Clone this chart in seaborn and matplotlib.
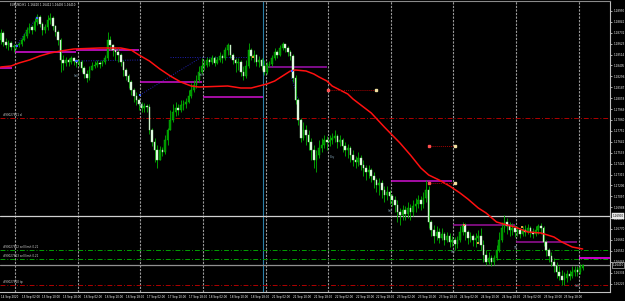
import numpy as np
import pandas as pd
import matplotlib
matplotlib.use("Agg")
import matplotlib.pyplot as plt
import seaborn as sns

sns.set_style("dark", {"axes.facecolor": "black", "figure.facecolor": "black"})
plt.rcParams['font.family'] = ['DejaVu Sans']

title_text = "EURUSD,H1  1.16410 1.16412 1.16405 1.16410"

first_open = 1.1866
close = [1.1873,1.1864,1.1861,1.1863,1.1859,1.1860,1.1861,1.1862,1.1866,1.1870,1.1876,1.1879,
         1.1876,1.1884,1.1889,1.1882,1.1876,1.1879,1.1886,1.1888,1.1880,1.1874,1.1866,1.1846,
         1.1843,1.1846,1.1844,1.1848,1.1845,1.1843,1.1844,1.1838,1.1832,1.1828,1.1836,1.1840,
         1.1841,1.1843,1.1842,1.1844,1.1848,1.1866,1.1861,1.1856,1.1854,1.1851,1.1844,1.1836,
         1.1830,1.1824,1.1816,1.1810,1.1806,1.1802,1.1798,1.1800,1.1799,1.1776,1.1764,1.1756,
         1.1746,1.1756,1.1754,1.1766,1.1776,1.1786,1.1794,1.1798,1.1796,1.1801,1.1802,1.1804,
         1.1810,1.1816,1.1821,1.1826,1.1834,1.1840,1.1841,1.1846,1.1844,1.1848,1.1843,1.1846,
         1.1850,1.1848,1.1856,1.1861,1.1851,1.1846,1.1843,1.1844,1.1834,1.1830,1.1840,1.1856,
         1.1850,1.1851,1.1844,1.1846,1.1840,1.1834,1.1841,1.1842,1.1848,1.1854,1.1851,1.1858,
         1.1862,1.1858,1.1854,1.1850,1.1828,1.1806,1.1786,1.1768,1.1776,1.1771,1.1764,1.1756,
         1.1746,1.1751,1.1758,1.1761,1.1766,1.1764,1.1766,1.1768,1.1770,1.1764,1.1766,1.1760,
         1.1756,1.1758,1.1751,1.1746,1.1744,1.1748,1.1741,1.1738,1.1734,1.1736,1.1730,1.1726,
         1.1721,1.1723,1.1716,1.1711,1.1714,1.1710,1.1706,1.1701,1.1694,1.1691,1.1696,1.1692,
         1.1698,1.1694,1.1700,1.1702,1.1706,1.1702,1.1708,1.1716,1.1684,1.1676,1.1670,1.1674,
         1.1668,1.1672,1.1666,1.1670,1.1664,1.1666,1.1662,1.1666,1.1674,1.1681,1.1674,1.1668,
         1.1670,1.1666,1.1668,1.1670,1.1661,1.1651,1.1644,1.1648,1.1644,1.1648,1.1656,1.1666,
         1.1678,1.1684,1.1680,1.1676,1.1678,1.1674,1.1676,1.1672,1.1676,1.1674,1.1678,1.1674,
         1.1672,1.1676,1.1680,1.1678,1.1664,1.1656,1.1650,1.1644,1.1640,1.1634,1.1630,1.1626,
         1.1628,1.1632,1.1630,1.1634,1.1636,1.1634,1.1638,1.1641]
high = [1.1877,1.1875,1.1868,1.1866,1.1865,1.1862,1.1862,1.1864,1.1868,1.1873,1.1879,1.1883,
        1.1881,1.1888,1.1892,1.1891,1.1884,1.1882,1.1891,1.1893,1.1890,1.1881,1.1876,1.1868,
        1.1851,1.1849,1.1848,1.1850,1.1849,1.1847,1.1847,1.1846,1.1840,1.1836,1.1840,1.1844,
        1.1845,1.1846,1.1845,1.1846,1.1851,1.1874,1.1870,1.1862,1.1859,1.1858,1.1853,1.1846,
        1.1838,1.1832,1.1826,1.1818,1.1814,1.1808,1.1804,1.1803,1.1802,1.1802,1.1778,1.1768,
        1.1761,1.1760,1.1759,1.1771,1.1778,1.1796,1.1802,1.1804,1.1802,1.1806,1.1806,1.1808,
        1.1816,1.1823,1.1826,1.1831,1.1840,1.1848,1.1846,1.1849,1.1848,1.1851,1.1850,1.1849,
        1.1854,1.1852,1.1859,1.1863,1.1861,1.1853,1.1848,1.1848,1.1846,1.1840,1.1846,1.1863,
        1.1858,1.1856,1.1852,1.1850,1.1848,1.1846,1.1844,1.1845,1.1851,1.1858,1.1856,1.1861,
        1.1864,1.1862,1.1860,1.1856,1.1852,1.1831,1.1808,1.1788,1.1784,1.1781,1.1776,1.1768,
        1.1761,1.1756,1.1766,1.1768,1.1771,1.1770,1.1771,1.1773,1.1776,1.1772,1.1771,1.1768,
        1.1764,1.1762,1.1760,1.1756,1.1750,1.1754,1.1751,1.1746,1.1741,1.1741,1.1738,1.1734,
        1.1728,1.1728,1.1726,1.1720,1.1720,1.1716,1.1712,1.1710,1.1706,1.1698,1.1701,1.1700,
        1.1704,1.1702,1.1706,1.1708,1.1711,1.1710,1.1714,1.1726,1.1720,1.1686,1.1681,1.1680,
        1.1678,1.1678,1.1674,1.1674,1.1673,1.1670,1.1669,1.1670,1.1680,1.1684,1.1683,1.1676,
        1.1674,1.1672,1.1673,1.1676,1.1678,1.1666,1.1656,1.1654,1.1651,1.1651,1.1661,1.1674,
        1.1684,1.1691,1.1688,1.1684,1.1683,1.1681,1.1680,1.1678,1.1680,1.1681,1.1682,1.1680,
        1.1678,1.1680,1.1682,1.1683,1.1680,1.1666,1.1658,1.1654,1.1648,1.1644,1.1640,1.1636,
        1.1634,1.1636,1.1636,1.1640,1.1640,1.1640,1.1642,1.1642]
low = [1.1862,1.1860,1.1858,1.1856,1.1856,1.1854,1.1857,1.1859,1.1860,1.1865,1.1868,1.1873,
       1.1872,1.1875,1.1881,1.1879,1.1871,1.1873,1.1876,1.1882,1.1876,1.1870,1.1861,1.1834,
       1.1836,1.1840,1.1840,1.1842,1.1841,1.1839,1.1840,1.1834,1.1828,1.1824,1.1826,1.1836,
       1.1838,1.1839,1.1838,1.1840,1.1842,1.1846,1.1856,1.1850,1.1846,1.1844,1.1840,1.1830,
       1.1826,1.1818,1.1811,1.1804,1.1801,1.1796,1.1794,1.1794,1.1794,1.1772,1.1760,1.1744,
       1.1738,1.1748,1.1750,1.1752,1.1761,1.1778,1.1784,1.1790,1.1791,1.1794,1.1796,1.1798,
       1.1803,1.1808,1.1814,1.1818,1.1824,1.1832,1.1836,1.1839,1.1840,1.1842,1.1840,1.1842,
       1.1844,1.1843,1.1846,1.1851,1.1848,1.1842,1.1834,1.1836,1.1830,1.1826,1.1828,1.1838,
       1.1846,1.1844,1.1840,1.1839,1.1836,1.1831,1.1832,1.1839,1.1840,1.1846,1.1848,1.1850,
       1.1856,1.1854,1.1850,1.1846,1.1824,1.1802,1.1781,1.1764,1.1766,1.1761,1.1756,1.1746,
       1.1738,1.1734,1.1748,1.1754,1.1758,1.1756,1.1760,1.1762,1.1764,1.1758,1.1760,1.1754,
       1.1750,1.1748,1.1744,1.1740,1.1738,1.1740,1.1736,1.1730,1.1726,1.1728,1.1724,1.1718,
       1.1714,1.1711,1.1708,1.1704,1.1706,1.1702,1.1700,1.1694,1.1684,1.1681,1.1686,1.1686,
       1.1688,1.1686,1.1690,1.1694,1.1698,1.1696,1.1698,1.1704,1.1678,1.1670,1.1663,1.1666,
       1.1663,1.1666,1.1661,1.1664,1.1659,1.1660,1.1656,1.1658,1.1664,1.1671,1.1666,1.1662,
       1.1664,1.1660,1.1659,1.1664,1.1656,1.1644,1.1641,1.1642,1.1640,1.1641,1.1646,1.1654,
       1.1664,1.1674,1.1672,1.1670,1.1671,1.1669,1.1670,1.1668,1.1670,1.1670,1.1672,1.1669,
       1.1668,1.1670,1.1672,1.1672,1.1660,1.1650,1.1644,1.1640,1.1634,1.1628,1.1626,1.1621,
       1.1621,1.1624,1.1626,1.1628,1.1630,1.1630,1.1632,1.1636]

# moving average (red) vertices: bar index, price
ma_bar = [0,4,7,11,15,19,23,28,38,46,50,53,57,61,65,69,73,76,87,92,96,99,102,105,108,111,113,
          117,120,122,125,127,130,133,135,142,147,153,157,161,164,168,172,176,179,183,186,190,
          194,197,202,207,212,215,219,223]
ma_price = [1.1839,1.1840,1.1843,1.1846,1.1850,1.1853,1.1855,1.1857,1.1858,1.1858,1.1856,1.1851,
            1.1845,1.1837,1.1830,1.1824,1.1820,1.1819,1.1820,1.1818,1.1818,1.1820,1.1822,1.1825,
            1.1830,1.1835,1.1836,1.1835,1.1832,1.1829,1.1825,1.1820,1.1816,1.1812,1.1807,1.1793,
            1.1779,1.1763,1.1751,1.1738,1.1731,1.1726,1.1720,1.1713,1.1707,1.1698,1.1693,1.1684,
            1.1681,1.1679,1.1674,1.1673,1.1669,1.1664,1.1659,1.1657]

# daily level segments
lvl_start = [-0.25, 5.5, 29.0, 53.5, 77.5, 101.5, 149.5, 173.5, 197.5, 221.5]
lvl_end = [4.4, 29.0, 53.0, 77.0, 100.5, 125.0, 173.0, 197.0, 221.0, 233.5]
lvl_price = [1.1838, 1.1854, 1.1856, 1.1824, 1.1809, 1.1839, 1.1725, 1.1681, 1.1664, 1.1648]
lvl_color = ['#e010e0', '#e010e0', '#e010e0', '#d010d0', '#d010d0', '#a010b0',
             '#d010d0', '#9a109a', '#9a109a', '#ff00ff']

# full-width order lines
order_price = [1.1788, 1.1656, 1.1647, 1.1621]
order_color = ['#b00000', '#00a000', '#00a000', '#b00000']
order_label = ['#90027811 sl', '#90027812 sell limit 0.21', '#90027813 sell limit 0.21', '#90027810 tp']
hline_price = [1.1690, 1.1641]
hline_color = ['#d0d0d0', '#909090']

# trade connection lines
trade_x0 = [125.5, 164.0, 164.0]
trade_x1 = [144.0, 174.0, 174.0]
trade_p = [1.1816, 1.1760, 1.1723]

# blue dotted zigzag segments
zz_x0 = [5.5, 29.0, 53.4, 65.0, 111.5]
zz_x1 = [14.0, 53.4, 76.4, 94.4, 114.0]
zz_p0 = [1.1859, 1.1845, 1.1811, 1.1849, 1.1828]
zz_p1 = [1.1889, 1.1846, 1.1848, 1.1849, 1.1806]

# small arrow marks and their notes
mark_bar = [6.3, 14.0, 29.0, 53.4, 111.6, 96.7, 177.5, 183.0, 199.7]
mark_price = [1.1860, 1.1888, 1.1845, 1.1811, 1.1835, 1.1849, 1.1681, 1.1663, 1.1679]
mark_color = ['#4060ff', '#4060ff', '#4060ff', '#4060ff', '#4060ff', '#e0a040', '#ff6060', '#e0a040', '#e0a040']
note_bar = [28.0, 76.0, 53.0, 126.0, 148.5, 172.5, 196.5, 220.0]
note_price = [1.1830, 1.1831, 1.1801, 1.1749, 1.1695, 1.1654, 1.1658, 1.1620]
note_text = ['Sell', 'Sell', 'Buy', 'Buy', 'Sell', 'Sell', 'TP', 'Sell']

separators = [5.5 + 24 * k for k in range(10)]
blue_vline = 100.5

date_labels = ["14 Sep 2020", "15 Sep 02:00", "15 Sep 10:00", "15 Sep 18:00", "16 Sep 02:00",
               "16 Sep 10:00", "16 Sep 18:00", "17 Sep 02:00", "17 Sep 10:00", "17 Sep 18:00",
               "18 Sep 02:00", "18 Sep 10:00", "18 Sep 18:00", "21 Sep 02:00", "21 Sep 10:00",
               "21 Sep 18:00", "22 Sep 02:00", "22 Sep 10:00", "22 Sep 18:00", "23 Sep 02:00",
               "23 Sep 10:00", "23 Sep 18:00", "24 Sep 02:00", "24 Sep 10:00", "24 Sep 18:00",
               "25 Sep 02:00", "25 Sep 10:00", "25 Sep 18:00"]

n = min(len(close), len(high), len(low))
df = pd.DataFrame({"bar": np.arange(n), "close": close[:n], "high": high[:n], "low": low[:n]})
df["open"] = [first_open] + list(df["close"].iloc[:-1])
df["high"] = df[["high", "open", "close"]].max(axis=1)
df["low"] = df[["low", "open", "close"]].min(axis=1)

YMIN, YMAX = 1.1614, 1.1905
fig = plt.figure(figsize=(6.25, 3.01), dpi=100, facecolor='black')
ax = fig.add_axes([0, 9 / 301, 610 / 625, 291 / 301], facecolor='black')
ax.set_xlim(-0.25, 233.47)
ax.set_ylim(YMIN, YMAX)

# separators
for s in separators:
    ax.axvline(s, color='#9a9a9a', lw=0.8, ls=(0, (2, 1.2)), zorder=1)
ax.axvline(blue_vline, color='#2a7fa8', lw=0.8, zorder=1)

# order lines
for p, c in zip(order_price, order_color):
    ax.axhline(p, color=c, lw=0.7, ls=(0, (5, 2, 1, 2)), zorder=1)
for p, c in zip(hline_price, hline_color):
    ax.axhline(p, color=c, lw=0.9, zorder=1)
for p, t in zip(order_price, order_label):
    ax.text(1.0, p + 0.00012, t, color='#d0d0d0', fontsize=2.0, va='bottom', ha='left', zorder=6)

# level segments
for x0, x1, p, c in zip(lvl_start, lvl_end, lvl_price, lvl_color):
    ax.plot([x0, x1], [p, p], color=c, lw=1.1, zorder=3, solid_capstyle='butt')

# zigzag
for x0, x1, p0, p1 in zip(zz_x0, zz_x1, zz_p0, zz_p1):
    ax.plot([x0, x1], [p0, p1], color='#2020b0', lw=0.7, ls=(0, (1, 1.5)), zorder=2)

# candles
up = df["close"] >= df["open"]
ax.vlines(df["bar"], df["low"], df["high"], color='#00b400', lw=0.6, zorder=4)
body_h = (df["close"] - df["open"]).abs().clip(lower=0.00008)
body_b = df[["open", "close"]].min(axis=1)
ax.bar(df["bar"][up], body_h[up], bottom=body_b[up], width=0.62, color='#009000',
       edgecolor='#00c000', linewidth=0.3, zorder=5)
ax.bar(df["bar"][~up], body_h[~up], bottom=body_b[~up], width=0.62, color='#f0fff0',
       edgecolor='#a0e0a0', linewidth=0.3, zorder=5)

# moving average
sns.lineplot(x=ma_bar, y=ma_price, ax=ax, color='#ff1010', lw=1.1, zorder=6)

# trade lines
for x0, x1, p in zip(trade_x0, trade_x1, trade_p):
    ax.plot([x0, x1], [p, p], color='#a00000', lw=0.7, ls=(0, (1, 1)), zorder=6)
    ax.plot([x0], [p], marker='s', ms=1.6, color='#ff5050', zorder=7)
    ax.plot([x1], [p], marker='s', ms=1.6, color='#f0e0a0', zorder=7)

# arrow marks and notes
sns.scatterplot(x=mark_bar, y=mark_price, ax=ax, color=mark_color, s=3, marker='s',
                linewidth=0, zorder=7, legend=False)
for b, p, t in zip(note_bar, note_price, note_text):
    ax.text(b, p, t, color='#7896a8', fontsize=2.0, ha='left', va='center', zorder=7)

# axes styling
ax.yaxis.tick_right()
ax.yaxis.set_label_position('right')
yt = [1.18950 - 0.00109 * k for k in range(27)]
yt = [v for v in yt if YMIN < v < YMAX]
ax.set_yticks(yt)
ax.set_yticklabels([f"{v:.5f}" for v in yt])
ax.tick_params(axis='y', colors='#f0f0f0', labelsize=2.0, length=1.5, width=0.5, pad=1.0, right=True, left=False)
xt = [8 * k for k in range(len(date_labels))]
ax.set_xticks(xt)
ax.set_xticklabels(date_labels, ha='left')
ax.tick_params(axis='x', colors='#f4f4f4', labelsize=1.95, length=1.5, width=0.5, pad=1.0)
for lab in ax.get_xticklabels():
    lab.set_color('white')
ax.grid(False)
ax.spines['left'].set_visible(False)
ax.spines['top'].set_color('#8a8a8a')
ax.spines['right'].set_color('#c0c0c0')
ax.spines['bottom'].set_color('#c0c0c0')
for sp in ['top', 'right', 'bottom']:
    ax.spines[sp].set_linewidth(0.8)
ax.set_xlabel('')
ax.set_ylabel('')

# highlighted price labels on axis
ax.text(1.004, (hline_price[0] - YMIN) / (YMAX - YMIN), f"{hline_price[0]:.5f}",
        transform=ax.transAxes, fontsize=2.0, color='black', va='center', ha='left',
        bbox=dict(boxstyle='square,pad=0.2', fc='#e8e8e8', ec='#e8e8e8', lw=0.3))
ax.text(1.004, (hline_price[1] - YMIN) / (YMAX - YMIN), f"{hline_price[1]:.5f}",
        transform=ax.transAxes, fontsize=2.0, color='white', va='center', ha='left',
        bbox=dict(boxstyle='square,pad=0.2', fc='black', ec='#e8e8e8', lw=0.4))

fig.text(10 / 625, 1 - 5 / 301, title_text, color='#f0f0f0', fontsize=2.0, va='center', ha='left')

fig.savefig('out.png', dpi=100, facecolor='black')
